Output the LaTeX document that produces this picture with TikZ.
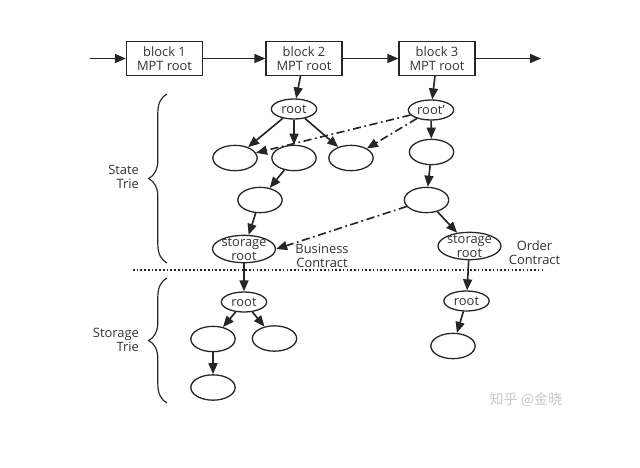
\documentclass[tikz,border=0pt]{standalone}
\usepackage{fontspec}
\setmainfont{Open Sans}
\newfontfamily\cjkfont{Noto Sans CJK SC}
\usetikzlibrary{arrows.meta,shapes.geometric,decorations.pathreplacing}

\begin{document}
\begin{tikzpicture}[x=0.03cm, y=-0.03cm, font=\fontsize{11}{11.7}\selectfont,
    >={Triangle[length=3.3mm, width=2.7mm]},
    ink/.style={black!85},
    blockbox/.style={draw=black!85, line width=1.1pt, align=center, inner sep=0pt,
      minimum width=2.28cm, minimum height=1.02cm, text=black!80},
    trie/.style={draw=black!85, ellipse, line width=1.1pt, inner sep=0pt,
      minimum width=1.33cm, minimum height=0.76cm, text=black!80},
    trieroot/.style={trie, minimum width=1.36cm, minimum height=0.6cm},
    storageroot/.style={trie, align=center, inner xsep=-2pt, inner ysep=-4pt,
      minimum width=1.89cm, minimum height=0.82cm},
    link/.style={->, draw=black!85, line width=1.4pt},
    share/.style={link, dash pattern=on 7pt off 3pt on 1.5pt off 3pt},
    side/.style={align=right, anchor=east, text=black!80},
    tag/.style={align=center, text=black!80}]
  \useasboundingbox (0,0) rectangle (640,467);

  % block chain
  \coordinate (c0) at (90,58.5);
  \node[blockbox] (b1) at (164.5,58.5) {block 1\\MPT root};
  \node[blockbox] (b2) at (304,58.5) {block 2\\MPT root};
  \node[blockbox] (b3) at (437,58.5) {block 3\\MPT root};
  \coordinate (c4) at (541,58.5);
  \draw[link] (c0) -- (b1);
  \draw[link] (b1) -- (b2);
  \draw[link] (b2) -- (b3);
  \draw[link] (b3) -- (c4);

  % state trie
  \node[trieroot] (r1) at (294,109) {root};
  \node[trieroot] (r2) at (431,110) {root'};
  \node[trie] (n1) at (235,158) {};
  \node[trie] (n2) at (294,158) {};
  \node[trie] (n3) at (351,158) {};
  \node[trie] (n4) at (431.5,152) {};
  \node[trie] (n5) at (260,200) {};
  \node[trie] (n6) at (426.5,200) {};
  \node[storageroot] (s1) at (244,249) {storage\\root};
  \node[storageroot] (s2) at (469.5,246) {storage\\root};
  \node[tag] (l1) at (322,255.5) {Business\\Contract};
  \node[tag] (l2) at (534.5,252.5) {Order\\Contract};

  \draw[link] (b2) -- (r1);
  \draw[link] (b3) -- (r2);
  \draw[link] (r1) -- (n1);
  \draw[link] (r1) -- (n2);
  \draw[link] (r1) -- (n3);
  \draw[link] (r2) -- (n4);
  \draw[link] (n2) -- (n5);
  \draw[link] (n5) -- (s1);
  \draw[link] (n4) -- (n6);
  \draw[link] (n6) -- (s2);
  \draw[share] (r2) -- (n1);
  \draw[share] (r2) -- (n3);
  \draw[share] (n6) -- (s1.east);

  % separator
  \draw[black!85, line width=1.3pt, dash pattern=on 1.3pt off 1.9pt] (133,270) -- (545,270);

  % storage tries
  \node[trieroot] (t1) at (244,302) {root};
  \node[trieroot] (t2) at (466.5,301) {root};
  \node[trie] (n7) at (213,339) {};
  \node[trie] (n8) at (274.5,338.5) {};
  \node[trie] (n9) at (213,387.5) {};
  \node[trie] (n10) at (453,346) {};

  \draw[link] (s1) -- (t1);
  \draw[link] (s2) -- (t2);
  \draw[link] (t1) -- (n7);
  \draw[link] (t1) -- (n8);
  \draw[link] (n7) -- (n9);
  \draw[link] (t2) -- (n10);

  % braces
  \draw[ink, line width=1pt, decorate, decoration={brace, amplitude=0.55cm}] (167,263) -- (167,94);
  \draw[ink, line width=1pt, decorate, decoration={brace, amplitude=0.55cm}] (167,403) -- (167,278);
  \node[side] (st) at (143,177) {State\\Trie};
  \node[side] (gt) at (143,340) {Storage\\Trie};

  \node[text=black!22, font=\cjkfont\fontsize{12}{12}\selectfont] (wm) at (526,400) {知乎 @金晓};
\end{tikzpicture}
\end{document}
